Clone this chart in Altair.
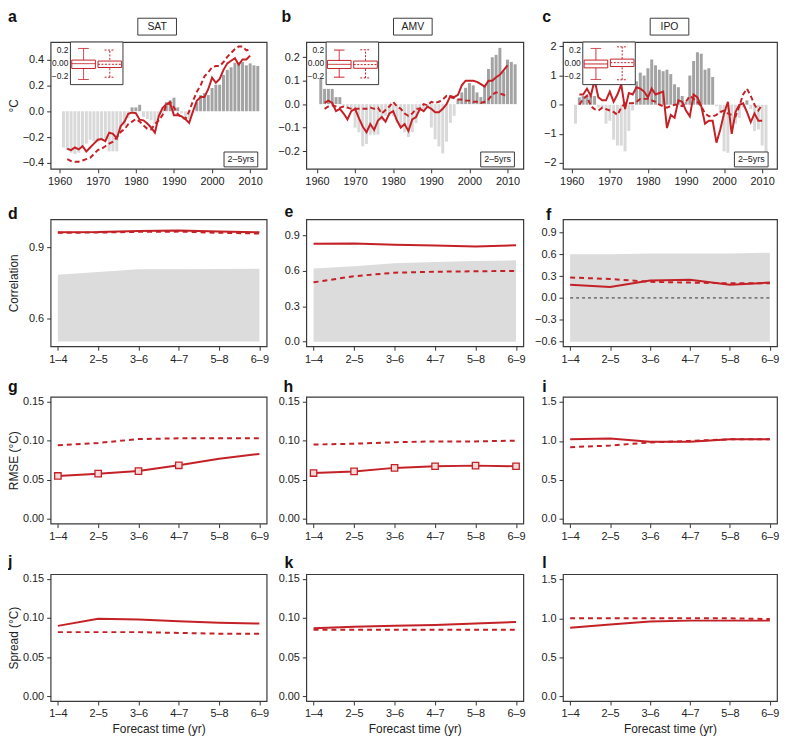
import altair as alt
import pandas as pd

FONT = "Liberation Sans"
RED = "#c42127"
DARK = "#a3a3a3"
LIGHT = "#d9d9d9"
BAND = "#dcdcdc"
FRAME = "#3a3a3a"
TXT = "#222222"

# ---------------- top row data ----------------
YEAR_TICKS = [1960, 1970, 1980, 1990, 2000, 2010]
BAR_YEARS = list(range(1961, 2013))
LINE_YEARS = list(range(1962, 2011))

SAT_BARS = [-0.28, -0.30, -0.32, -0.33, -0.32, -0.27, -0.25, -0.22, -0.23, -0.24,
            -0.22, -0.21, -0.31, -0.31, -0.31, -0.17, -0.11, -0.05, 0.03, 0.03,
            0.05, -0.045, -0.06, -0.07, -0.095, -0.045, -0.01, 0.07, 0.085, 0.105,
            0.03, -0.015, -0.045, -0.06, -0.015, 0.07, 0.125, 0.14, 0.125, 0.18,
            0.205, 0.205, 0.28, 0.32, 0.34, 0.375, 0.375, 0.38, 0.355, 0.37,
            0.355, 0.35]
SAT_SOLID = [-0.29, -0.30, -0.28, -0.295, -0.27, -0.31, -0.28, -0.25, -0.22, -0.215,
             -0.23, -0.165, -0.175, -0.21, -0.115, -0.08, -0.02, -0.01, -0.015, -0.065,
             -0.07, -0.095, -0.125, -0.165, -0.04, 0.025, 0.055, 0.06, -0.03, -0.03,
             -0.04, -0.06, -0.09, 0.0, 0.08, 0.11, 0.11, 0.17, 0.26, 0.22,
             0.25, 0.32, 0.37, 0.39, 0.41, 0.36, 0.40, 0.40, 0.43]
SAT_DASH = [-0.37, -0.385, -0.39, -0.39, -0.38, -0.37, -0.36, -0.33, -0.30, -0.29,
            -0.27, -0.25, -0.235, -0.20, -0.16, -0.14, -0.10, -0.08, -0.06, -0.08,
            -0.11, -0.135, -0.14, -0.10, -0.07, -0.03, 0.05, 0.07, 0.03, -0.02,
            -0.05, -0.06, 0.0, 0.08, 0.15, 0.20, 0.27, 0.30, 0.34, 0.35,
            0.35, 0.38, 0.42, 0.45, 0.48, 0.50, 0.50, 0.47, 0.48]

AMV_BARS = [0.11, 0.065, 0.065, 0.065, 0.03, 0.03, -0.005, -0.02, -0.02, -0.10,
            -0.12, -0.18, -0.17, -0.13, -0.13, -0.13, -0.07, -0.05, -0.05, -0.05,
            -0.08, -0.10, -0.12, -0.14, -0.12, -0.08, -0.03, -0.02, -0.02, -0.10,
            -0.15, -0.18, -0.21, -0.16, -0.08, -0.05, 0.02, 0.05, 0.07, 0.09,
            0.08, 0.05, 0.03, 0.08, 0.15, 0.20, 0.21, 0.24, 0.14, 0.19,
            0.18, 0.17]
AMV_SOLID = [0.005, 0.015, 0.005, -0.03, -0.02, -0.04, -0.065, -0.03, -0.02, -0.06,
             -0.095, -0.12, -0.085, -0.11, -0.07, -0.055, -0.075, -0.04, -0.03, -0.07,
             -0.10, -0.085, -0.115, -0.065, -0.055, -0.02, -0.03, -0.01, -0.02, -0.035,
             -0.035, -0.02, 0.0, 0.035, 0.03, 0.04, 0.08, 0.10, 0.10, 0.10,
             0.095, 0.085, 0.075, 0.10, 0.10, 0.115, 0.125, 0.145, 0.165]
AMV_DASH = [-0.02, -0.01, -0.005, -0.01, -0.015, -0.01, -0.015, -0.02, -0.02, -0.02,
            -0.02, -0.02, -0.015, -0.02, -0.015, -0.04, -0.025, -0.01, 0.01, -0.01,
            -0.02, -0.04, -0.05, -0.04, -0.02, -0.02, 0.0, -0.005, 0.01, 0.005,
            0.01, 0.02, 0.035, 0.03, 0.025, 0.02, 0.02, 0.015, 0.015, 0.01,
            0.01, 0.005, 0.01, 0.02, 0.04, 0.05, 0.045, 0.04, 0.03]

IPO_BARS = [-0.65, 0.25, 0.3, 0.35, 0.3, 0.3, -0.1, -0.15, -0.65, -0.55,
            -1.2, -1.4, -1.4, -1.6, -0.9, -0.2, 0.8, 1.1, 1.0, 1.25,
            1.55, 1.35, 1.2, 1.15, 1.2, 1.05, 0.7, 0.6, 0.3, 0.1,
            1.0, 1.5, 1.8, 1.75, 1.2, 1.25, 0.95, -0.05, -0.3, -1.6,
            -1.65, -0.85, -0.65, -0.45, -0.1, 0.15, -0.15, -0.9, -0.85, -1.4,
            -1.7]
IPO_SOLID = [0.35, 0.35, 0.55, 0.3, 0.85, 0.25, 0.15, 0.15, 0.45, 0.1,
             0.35, 0.7, -0.15, 0.4, 0.35, 0.6, 0.55, 0.45, 0.25, 0.55,
             0.35, 0.4, 0.45, -0.8, -0.35, -0.45, 0.15, 0.1, -0.2, -0.4,
             0.35, 0.25, -0.05, -0.65, -0.55, -0.55, -1.3, -0.85, -0.3, 0.1,
             -1.0, -0.25, 0.0, 0.05, -0.25, -0.6, -0.3, -0.55, -0.55]
IPO_DASH = [0.0, 0.2, 0.3, -0.05, -0.15, -0.2, -0.1, -0.15, -0.2, -0.25,
            -0.35, -0.1, 0.05, 0.05, 0.05, 0.1, 0.2, 0.2, 0.2, 0.15,
            0.1, 0.0, -0.05, -0.1, -0.05, 0.0, 0.0, -0.05, 0.1, 0.3,
            0.2, 0.1, -0.05, -0.3, -0.4, -0.4, -0.35, -0.25, -0.2, -0.3,
            -0.35, -0.4, -0.05, 0.35, 0.55, 0.3, 0.0, -0.2, 0.0]

# inset box statistics: [min, q1, median, q3, max] for solid and dotted boxes
INSET_SAT = ([-0.26, -0.09, -0.015, 0.04, 0.22], [-0.225, -0.075, -0.025, 0.025, 0.195])
INSET_AMV = ([-0.225, -0.09, -0.026, 0.035, 0.195], [-0.236, -0.087, -0.03, 0.025, 0.20])
INSET_IPO = ([-0.26, -0.08, -0.02, 0.04, 0.22], [-0.265, -0.06, 0.0, 0.055, 0.245])
INSET_TICKS = [0.2, 0.0, -0.2]
INSET_LABELS = ["0.2", "0.00", "\u22120.2"]

# ---------------- lower rows data ----------------
LEADS = ["1\u20134", "2\u20135", "3\u20136", "4\u20137", "5\u20138", "6\u20139"]

COR_SAT_SOLID = [0.965, 0.966, 0.971, 0.973, 0.968, 0.965]
COR_SAT_DASH = [0.963, 0.964, 0.967, 0.968, 0.963, 0.960]
COR_SAT_LO = [0.50, 0.50, 0.50, 0.50, 0.50, 0.50]
COR_SAT_HI = [0.784, 0.796, 0.808, 0.808, 0.809, 0.81]

COR_AMV_SOLID = [0.83, 0.832, 0.822, 0.815, 0.808, 0.817]
COR_AMV_DASH = [0.503, 0.555, 0.585, 0.593, 0.597, 0.60]
COR_AMV_LO = [0.0, 0.0, 0.0, 0.0, 0.0, 0.0]
COR_AMV_HI = [0.62, 0.64, 0.665, 0.675, 0.685, 0.69]

COR_IPO_SOLID = [0.18, 0.15, 0.24, 0.25, 0.18, 0.21]
COR_IPO_DASH = [0.28, 0.26, 0.22, 0.21, 0.20, 0.20]
COR_IPO_LO = [-0.6, -0.6, -0.6, -0.6, -0.6, -0.6]
COR_IPO_HI = [0.60, 0.60, 0.61, 0.61, 0.61, 0.62]

RMSE_SAT_SOLID = [0.0549, 0.0578, 0.0611, 0.0685, 0.0768, 0.083]
RMSE_SAT_DASH = [0.094, 0.097, 0.102, 0.103, 0.103, 0.103]
RMSE_SAT_MARK = [True, True, True, True, False, False]

RMSE_AMV_SOLID = [0.0586, 0.0607, 0.0652, 0.0673, 0.0681, 0.0673]
RMSE_AMV_DASH = [0.095, 0.096, 0.098, 0.099, 0.099, 0.100]
RMSE_AMV_MARK = [True, True, True, True, True, True]

RMSE_IPO_SOLID = [1.02, 1.03, 0.99, 0.99, 1.02, 1.02]
RMSE_IPO_DASH = [0.92, 0.94, 0.98, 1.00, 1.02, 1.02]

SPR_SAT_SOLID = [0.090, 0.099, 0.098, 0.096, 0.094, 0.093]
SPR_SAT_DASH = [0.082, 0.082, 0.082, 0.081, 0.080, 0.080]

SPR_AMV_SOLID = [0.087, 0.089, 0.090, 0.091, 0.093, 0.095]
SPR_AMV_DASH = [0.085, 0.085, 0.085, 0.085, 0.085, 0.085]

SPR_IPO_SOLID = [0.88, 0.92, 0.96, 0.97, 0.97, 0.97]
SPR_IPO_DASH = [1.00, 1.00, 1.00, 1.00, 1.00, 0.99]

H = 128
W = [218, 219, 216]
XDOM = [[1958.93, 2013.03], [1958.5, 2012.85], [1959.0, 2012.6]]


def one(text):
    return pd.DataFrame({"t": [text]})


def letter_mark(letter, x, y):
    return alt.Chart(one(letter)).mark_text(
        fontSize=16, fontWeight="bold", align="left", baseline="alphabetic", color="#111"
    ).encode(x=alt.value(x), y=alt.value(y), text="t:N")


def yaxis(values, fmt, title=None):
    kw = dict(values=values, format=fmt, title=title)
    if title:
        kw.update(titleX=-37, titleY=H / 2, titleAngle=270, titleAlign="center",
                  titleBaseline="middle")
    return alt.Axis(**kw)


def inset_layer(stats, x0=20, x1=73, h=43):
    s, d = stats
    df = pd.DataFrame({
        "kind": ["solid", "dotted"], "pos": [0.5, 1.5],
        "lo": [s[0], d[0]], "q1": [s[1], d[1]], "med": [s[2], d[2]],
        "q3": [s[3], d[3]], "hi": [s[4], d[4]],
    })
    df["bl"] = df["pos"] - 0.45
    df["br"] = df["pos"] + 0.45
    df["cl"] = df["pos"] - 0.2
    df["cr"] = df["pos"] + 0.2
    xs = alt.Scale(domain=[0, 2], range=[x0, x1], nice=False, zero=False)
    ys = alt.Scale(domain=[-0.34, 0.32], range=[h, 0], nice=False, zero=False)
    dash = alt.StrokeDash("kind:N", scale=alt.Scale(domain=["solid", "dotted"],
                                                   range=[[1, 0], [2, 1.5]]), legend=None)
    base = alt.Chart(df)
    frame = alt.Chart(one("")).mark_rect(fill="white", stroke=FRAME, strokeWidth=1).encode(
        x=alt.value(x0), x2=alt.value(x1), y=alt.value(0), y2=alt.value(h))
    whisk = base.mark_rule(color=RED, strokeWidth=1).encode(
        x=alt.X("pos:Q", scale=xs, axis=None), y=alt.Y("lo:Q", scale=ys, axis=None),
        y2="hi:Q", strokeDash=dash)
    box = base.mark_rect(fill="white", stroke=RED, strokeWidth=1).encode(
        x=alt.X("bl:Q", scale=xs, axis=None), x2="br:Q",
        y=alt.Y("q1:Q", scale=ys, axis=None), y2="q3:Q", strokeDash=dash)
    med = base.mark_rule(color=RED, strokeWidth=1).encode(
        x=alt.X("bl:Q", scale=xs, axis=None), x2="br:Q",
        y=alt.Y("med:Q", scale=ys, axis=None), strokeDash=dash)
    caplo = base.mark_rule(color=RED, strokeWidth=1).encode(
        x=alt.X("cl:Q", scale=xs, axis=None), x2="cr:Q",
        y=alt.Y("lo:Q", scale=ys, axis=None), strokeDash=dash)
    caphi = base.mark_rule(color=RED, strokeWidth=1).encode(
        x=alt.X("cl:Q", scale=xs, axis=None), x2="cr:Q",
        y=alt.Y("hi:Q", scale=ys, axis=None), strokeDash=dash)
    labs = alt.Chart(pd.DataFrame({"v": INSET_TICKS, "lab": INSET_LABELS})).mark_text(
        align="right", baseline="middle", fontSize=8.5, color=TXT).encode(
        x=alt.value(x0 - 2), y=alt.Y("v:Q", scale=ys, axis=None), text="lab:N")
    return alt.layer(frame, whisk, box, med, caplo, caphi, labs)


def top_panel(i, letter, lx, title, bars, solid, dashed, ydom, yticks, yfmt, inset, ytitle=None):
    w = W[i]
    bdf = pd.DataFrame({"year": BAR_YEARS[:len(bars)], "v": bars})
    ldf = pd.DataFrame({"year": LINE_YEARS, "solid": solid, "dashed": dashed})
    xsc = alt.Scale(domain=XDOM[i], nice=False, zero=False)
    ysc = alt.Scale(domain=ydom, nice=False, zero=False)
    xax = alt.Axis(values=YEAR_TICKS, format="d", title=None)
    yax = yaxis(yticks, yfmt, ytitle)
    barc = alt.Chart(bdf).mark_bar(size=3).encode(
        x=alt.X("year:Q", scale=xsc, axis=xax),
        y=alt.Y("v:Q", scale=ysc, axis=yax),
        y2=alt.Y2Datum(0),
        color=alt.condition(alt.datum.v > 0, alt.value(DARK), alt.value(LIGHT)),
    )
    dsh = alt.Chart(ldf).mark_line(color=RED, strokeWidth=2, strokeDash=[5, 3]).encode(
        x=alt.X("year:Q", scale=xsc, axis=xax), y=alt.Y("dashed:Q", scale=ysc, axis=yax))
    sol = alt.Chart(ldf).mark_line(color=RED, strokeWidth=2).encode(
        x=alt.X("year:Q", scale=xsc, axis=xax), y=alt.Y("solid:Q", scale=ysc, axis=yax))
    lab_box = alt.Chart(one("2\u20135yrs")).mark_rect(fill="white", stroke=FRAME, strokeWidth=1).encode(
        x=alt.value(w - 43), x2=alt.value(w - 9), y=alt.value(H - 17), y2=alt.value(H - 2))
    lab_txt = alt.Chart(one("2\u20135yrs")).mark_text(fontSize=9, color=TXT).encode(
        x=alt.value(w - 26), y=alt.value(H - 9.5), text="t:N")
    tbox = alt.Chart(one(title)).mark_rect(fill="white", stroke=FRAME, strokeWidth=1).encode(
        x=alt.value(88), x2=alt.value(127), y=alt.value(-24), y2=alt.value(-7))
    ttxt = alt.Chart(one(title)).mark_text(fontSize=10.5, color=TXT).encode(
        x=alt.value(107.5), y=alt.value(-15.5), text="t:N")
    main = alt.layer(barc, dsh, sol, lab_box, lab_txt, tbox, ttxt, letter_mark(letter, lx, -20))
    return alt.layer(main, inset_layer(inset)).resolve_scale(
        x="independent", y="independent").properties(width=w, height=H)


def low_panel(i, letter, lxy, solid, dashed, ydom, yticks, yfmt, lo=None, hi=None,
              marks=None, zero=False, ytitle=None, xtitle=None):
    w = W[i]
    df = pd.DataFrame({"lead": LEADS, "solid": solid, "dashed": dashed})
    xsc = alt.Scale(type="point", padding=0.18, domain=LEADS)
    ysc = alt.Scale(domain=ydom, nice=False, zero=False)
    xax = alt.Axis(labelAngle=0, title=xtitle, titlePadding=5, titleFontSize=12)
    yax = yaxis(yticks, yfmt, ytitle)
    X = alt.X("lead:N", scale=xsc, axis=xax, sort=LEADS)
    layers = []
    if lo is not None:
        adf = pd.DataFrame({"lead": LEADS, "lo": lo, "hi": hi})
        layers.append(alt.Chart(adf).mark_area(color=BAND, opacity=1).encode(
            x=X, y=alt.Y("lo:Q", scale=ysc, axis=yax), y2="hi:Q"))
    if zero:
        zdf = pd.DataFrame({"lead": LEADS, "z": [0.0] * len(LEADS)})
        layers.append(alt.Chart(zdf).mark_line(color="#333", strokeWidth=1, strokeDash=[3, 3]).encode(
            x=X, y=alt.Y("z:Q", scale=ysc, axis=yax)))
    layers.append(alt.Chart(df).mark_line(color=RED, strokeWidth=2, strokeDash=[5, 4]).encode(
        x=X, y=alt.Y("dashed:Q", scale=ysc, axis=yax)))
    layers.append(alt.Chart(df).mark_line(color=RED, strokeWidth=2).encode(
        x=X, y=alt.Y("solid:Q", scale=ysc, axis=yax)))
    if marks is not None:
        mdf = pd.DataFrame({"lead": LEADS, "solid": solid, "m": marks})
        mdf = mdf[mdf["m"]]
        layers.append(alt.Chart(mdf).mark_square(fill="#f5dada", stroke=RED, strokeWidth=1.3,
                                                 size=42, opacity=1).encode(
            x=X, y=alt.Y("solid:Q", scale=ysc, axis=yax)))
    layers.append(letter_mark(letter, lxy[0], lxy[1]))
    return alt.layer(*layers).properties(width=w, height=H)


RM_T = [0.0, 0.05, 0.10, 0.15]
RM_D = [-0.006, 0.156]
IP_T = [0.0, 0.5, 1.0, 1.5]
IP_D = [-0.06, 1.565]

a = top_panel(0, "a", -43, "SAT", SAT_BARS, SAT_SOLID, SAT_DASH, [-0.445, 0.535],
              [-0.4, -0.2, 0.0, 0.2, 0.4], ".1f", INSET_SAT, ytitle="\u00b0C")
b = top_panel(1, "b", -25, "AMV", AMV_BARS, AMV_SOLID, AMV_DASH, [-0.276, 0.265],
              [-0.2, -0.1, 0.0, 0.1, 0.2], ".1f", INSET_AMV)
c = top_panel(2, "c", -21, "IPO", IPO_BARS, IPO_SOLID, IPO_DASH, [-2.2, 2.15],
              [-2, -1, 0, 1, 2], "d", INSET_IPO)

d = low_panel(0, "d", (-43, 0), COR_SAT_SOLID, COR_SAT_DASH, [0.48, 1.02], [0.6, 0.9], ".1f",
              lo=COR_SAT_LO, hi=COR_SAT_HI, ytitle="Correlation")
e = low_panel(1, "e", (-22, -2), COR_AMV_SOLID, COR_AMV_DASH, [-0.039, 1.037],
              [0.0, 0.3, 0.6, 0.9], ".1f", lo=COR_AMV_LO, hi=COR_AMV_HI)
f = low_panel(2, "f", (-17, 1), COR_IPO_SOLID, COR_IPO_DASH, [-0.662, 1.076],
              [-0.6, -0.3, 0.0, 0.3, 0.6, 0.9], ".1f", lo=COR_IPO_LO, hi=COR_IPO_HI, zero=True)

g = low_panel(0, "g", (-43, -5), RMSE_SAT_SOLID, RMSE_SAT_DASH, RM_D, RM_T, ".2f",
              marks=RMSE_SAT_MARK, ytitle="RMSE (\u00b0C)")
h = low_panel(1, "h", (-23, -5), RMSE_AMV_SOLID, RMSE_AMV_DASH, RM_D, RM_T, ".2f",
              marks=RMSE_AMV_MARK)
i_ = low_panel(2, "i", (-21, -5), RMSE_IPO_SOLID, RMSE_IPO_DASH, IP_D, IP_T, ".1f")

j = low_panel(0, "j", (-43, -7), SPR_SAT_SOLID, SPR_SAT_DASH, RM_D, RM_T, ".2f",
              ytitle="Spread (\u00b0C)", xtitle="Forecast time (yr)")
k = low_panel(1, "k", (-22, -6), SPR_AMV_SOLID, SPR_AMV_DASH, RM_D, RM_T, ".2f",
              xtitle="Forecast time (yr)")
l = low_panel(2, "l", (-21, -6), SPR_IPO_SOLID, SPR_IPO_DASH, IP_D, IP_T, ".1f",
              xtitle="Forecast time (yr)")

chart = alt.concat(
    a, b, c, d, e, f, g, h, i_, j, k, l,
    columns=3, spacing={"row": 51, "column": 40}, bounds="flush",
).properties(padding={"left": -1, "top": -3, "right": 0, "bottom": 0}).configure(
    font=FONT
).configure_view(stroke=FRAME, strokeWidth=1.2).configure_axis(
    domain=False, grid=False, ticks=True, tickColor="#333", tickSize=4, tickWidth=1,
    labelFontSize=11, labelColor=TXT, labelPadding=3, titleFontSize=12,
    titleFontWeight="normal", titleColor=TXT,
)

chart.save("out.html", embed_options={"renderer": "svg", "actions": False})
